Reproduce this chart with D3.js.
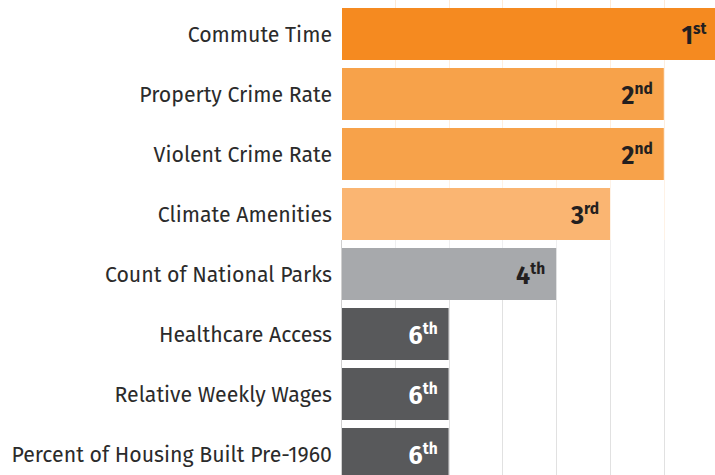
<!DOCTYPE html>
<html>
<head>
<meta charset="utf-8">
<script src="https://cdn.jsdelivr.net/npm/d3@7"></script>
<style>
  html, body { margin: 0; padding: 0; background: #fff; }
  svg { display: block; }
  .label { font-family: "Fira Sans", "Open Sans", "Noto Sans", sans-serif; font-size: 21.3px; fill: #2b2b2b; }
  .rank { font-family: "Fira Sans", "Open Sans", "Noto Sans", sans-serif; font-weight: 700; }
</style>
</head>
<body>
<svg width="715" height="475"></svg>
<script>
var categories = ["Commute Time", "Property Crime Rate", "Violent Crime Rate", "Climate Amenities",
                  "Count of National Parks", "Healthcare Access", "Relative Weekly Wages",
                  "Percent of Housing Built Pre-1960"];
var ranks = [1, 2, 2, 3, 4, 6, 6, 6];
var suffixes = ["st", "nd", "nd", "rd", "th", "th", "th", "th"];
var scores = [7, 6, 6, 5, 4, 2, 2, 2];
var gridTicks = [1, 2, 3, 4, 5, 6];

var data = categories.map(function(c, i) {
  return {name: c, rank: ranks[i], suffix: suffixes[i], score: scores[i]};
});

var svg = d3.select("svg"),
    left = 341;

var x = d3.scaleLinear().domain([0, 7]).range([left, left + 7 * 53.8]);
var y = d3.scaleBand().domain(categories).range([4, 484]).paddingInner(8 / 60).paddingOuter(4 / 60);

var color = d3.scaleOrdinal()
    .domain([1, 2, 3, 4, 6])
    .range(["#f58a20", "#f7a24a", "#fab572", "#a7a9ac", "#58595b"]);

var step = y.step();

// faint grid, tinted by row
var grid = svg.append("g");
data.forEach(function(d) {
  grid.selectAll(null)
      .data(gridTicks)
    .enter().append("line")
      .attr("x1", function(t) { return Math.round(x(t)) + 0.5; })
      .attr("x2", function(t) { return Math.round(x(t)) + 0.5; })
      .attr("y1", y(d.name) - (step - y.bandwidth()))
      .attr("y2", y(d.name) + y.bandwidth())
      .attr("stroke", color(d.rank))
      .attr("stroke-opacity", 0.18)
      .attr("stroke-width", 1);
});

svg.append("line")
    .attr("x1", left + 0.5).attr("x2", left + 0.5)
    .attr("y1", y(categories[3]) + y.bandwidth())
    .attr("y2", 475)
    .attr("stroke", "#d0d0d0");

var rows = svg.selectAll(".row")
    .data(data)
  .enter().append("g")
    .attr("class", "row");

rows.append("rect")
    .attr("x", x(0) + 1)
    .attr("y", function(d) { return y(d.name); })
    .attr("width", function(d) { return x(d.score) - x(0) - 1; })
    .attr("height", y.bandwidth())
    .attr("fill", function(d) { return color(d.rank); });

rows.append("text")
    .attr("class", "label")
    .attr("x", 332)
    .attr("y", function(d) { return y(d.name) + y.bandwidth() / 2 + 8; })
    .attr("text-anchor", "end")
    .text(function(d) { return d.name; });

var rk = rows.append("text")
    .attr("class", "rank")
    .attr("x", function(d) { return x(d.score) - 11; })
    .attr("y", function(d) { return y(d.name) + y.bandwidth() / 2 + 10; })
    .attr("text-anchor", "end")
    .attr("fill", function(d) { return d.rank >= 6 ? "#ffffff" : "#231f20"; });

rk.append("tspan")
    .style("font-size", "25px")
    .text(function(d) { return d.rank; });
rk.append("tspan")
    .style("font-size", "15.5px")
    .attr("dy", -10)
    .text(function(d) { return d.suffix; });
</script>
</body>
</html>
